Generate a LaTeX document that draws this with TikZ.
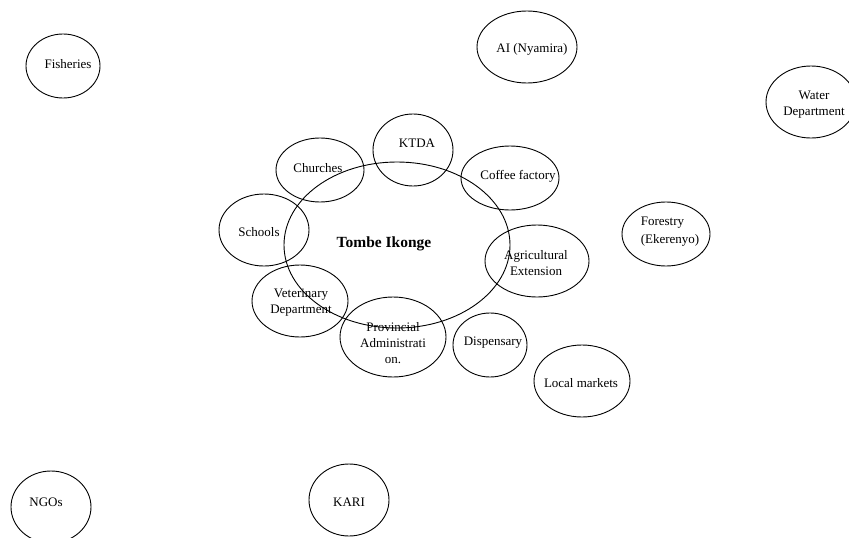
\documentclass[tikz,border=0pt]{standalone}
\usepackage{fontspec}
\setmainfont{Liberation Serif}
\begin{document}
\begin{tikzpicture}[x=1pt,y=-1pt,
  ell/.style={draw=black,line width=0.9pt},
  lbl/.style={inner sep=0pt,align=center,font=\fontsize{13}{16}\selectfont},
  lbll/.style={inner sep=0pt,align=left,font=\fontsize{13}{18}\selectfont}]
\useasboundingbox (0,0) rectangle (849,538);
% outer ring of agencies
\draw[ell] (63,66) ellipse (37 and 32);
\node[lbl] (fish) at (68,64) {Fisheries};
\draw[ell] (527,47) ellipse (50 and 36);
\node[lbl] (ai) at (532,49) {AI (Nyamira)};
\draw[ell] (811,102) ellipse (45 and 36);
\node[lbl] (water) at (814,105) {Water\\Department};
\draw[ell] (666,234) ellipse (44 and 32);
\node[lbll] (forest) at (670,232) {Forestry\\(Ekerenyo)};
\draw[ell] (582,381) ellipse (48 and 36);
\node[lbl] (markets) at (581,383) {Local markets};
\draw[ell] (51,507) ellipse (40 and 36);
\node[lbl] (ngos) at (46,502) {NGOs};
\draw[ell] (349,500) ellipse (40 and 36);
\node[lbl] (kari) at (349,502) {KARI};
% inner ring
\draw[ell] (320,170) ellipse (44 and 32);
\node[lbl] (church) at (318,168) {Churches};
\draw[ell] (413,150) ellipse (40 and 36);
\node[lbl] (ktda) at (417,143) {KTDA};
\draw[ell] (510,178) ellipse (49 and 32);
\node[lbl] (coffee) at (518,176) {Coffee factory};
\draw[ell] (264,230) ellipse (45 and 36);
\node[lbl] (schools) at (259,232) {Schools};
\draw[ell] (537,261) ellipse (52 and 36);
\node[lbl] (agri) at (536,263) {Agricultural\\Extension};
\draw[ell] (300,301) ellipse (48 and 36);
\node[lbl] (vet) at (301,303) {Veterinary\\Department};
\draw[ell] (393,337) ellipse (53 and 40);
\node[lbl] (prov) at (393,343) {Provincial\\Administrati\\on.};
\draw[ell] (490,345) ellipse (37 and 32);
\node[lbl] (disp) at (493,343) {Dispensary};
% central community
\draw[ell] (397,245) ellipse (113 and 83);
\node[lbl,font=\fontsize{15.5}{18}\selectfont\bfseries] (tombe) at (384,244) {Tombe Ikonge};
\end{tikzpicture}
\end{document}
